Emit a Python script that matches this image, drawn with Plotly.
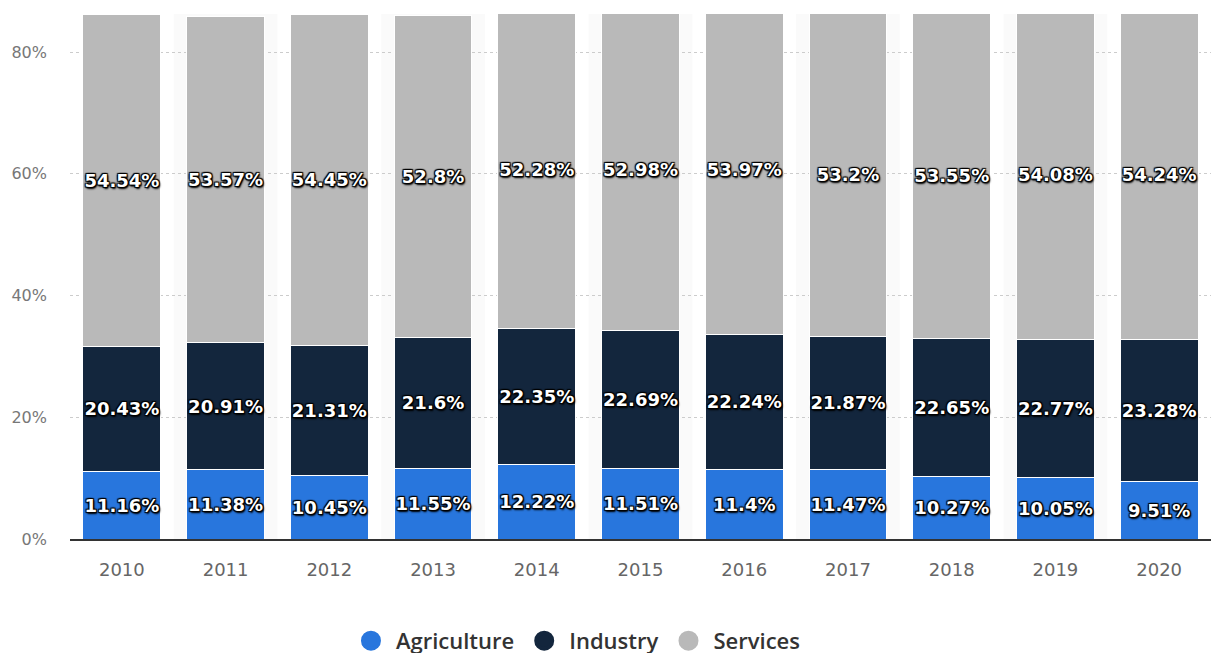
import plotly.graph_objects as go

years = ["2010", "2011", "2012", "2013", "2014", "2015", "2016", "2017", "2018", "2019", "2020"]
agriculture = [11.16, 11.38, 10.45, 11.55, 12.22, 11.51, 11.4, 11.47, 10.27, 10.05, 9.51]
industry = [20.43, 20.91, 21.31, 21.6, 22.35, 22.69, 22.24, 21.87, 22.65, 22.77, 23.28]
services = [54.54, 53.57, 54.45, 52.8, 52.28, 52.98, 53.97, 53.2, 53.55, 54.08, 54.24]
y_ticks = [0, 20, 40, 60, 80]
y_tick_labels = ["0%", "20%", "40%", "60%", "80%"]

series = [
    ("Agriculture", agriculture, "#2876dd"),
    ("Industry", industry, "#13263d"),
    ("Services", services, "#b9b9b9"),
]

shadow = ("-1px -1px 1px #000, 1px -1px 1px #000, -1px 1px 1px #000, "
          "1px 1px 1px #000, 1px 2px 2px #000, 0px 0px 2px #000")

fig = go.Figure()
for name, vals, color in series:
    fig.add_trace(go.Bar(
        x=years, y=vals, name=name, showlegend=False,
        marker=dict(color=color, line=dict(color="white", width=1)),
        text=[f"{v:g}%" for v in vals],
        textposition="inside", insidetextanchor="middle",
        textangle=0, constraintext="none",
        textfont=dict(family="DejaVu Sans", size=18, color="white",
                      weight="bold", shadow=shadow),
        hoverinfo="skip",
    ))
for name, vals, color in series:
    fig.add_trace(go.Scatter(
        x=[None], y=[None], mode="markers", name=name,
        marker=dict(color=color, size=16, symbol="circle",
                    line=dict(color=color, width=4)),
        showlegend=True, hoverinfo="skip",
    ))

shapes = []
for i, yr in enumerate(years):
    if i % 2 == 1:
        shapes.append(dict(type="rect", xref="x", yref="paper",
                           x0=i - 0.5, x1=i + 0.5, y0=0, y1=1,
                           fillcolor="#fafafa", line=dict(width=0), layer="below"))

fig.update_layout(
    width=1222, height=653,
    margin=dict(l=62, r=19, t=6, b=122, autoexpand=False),
    barmode="stack", bargap=0.25,
    plot_bgcolor="white", paper_bgcolor="white",
    shapes=shapes,
    legend=dict(orientation="h", x=0.443, xanchor="center", y=-0.194, yanchor="middle",
                traceorder="normal",
                font=dict(family="Open Sans", size=22, color="#333", weight=600),
                itemsizing="trace", itemwidth=40, tracegroupgap=0),
    xaxis=dict(type="category", showgrid=False, showline=True, linecolor="#333",
               linewidth=1.5, ticks="", ticklabelstandoff=14, automargin=False,
               tickfont=dict(family="DejaVu Sans", size=18, color="#666")),
    yaxis=dict(range=[0, 86.25], tickvals=y_ticks, ticktext=y_tick_labels,
               showgrid=True, gridcolor="#cccccc", griddash="dot", gridwidth=1,
               zeroline=False, showline=False, ticks="", ticklabelstandoff=22,
               automargin=False,
               tickfont=dict(family="DejaVu Sans", size=16, color="#777")),
)

fig.write_html("out.html")
